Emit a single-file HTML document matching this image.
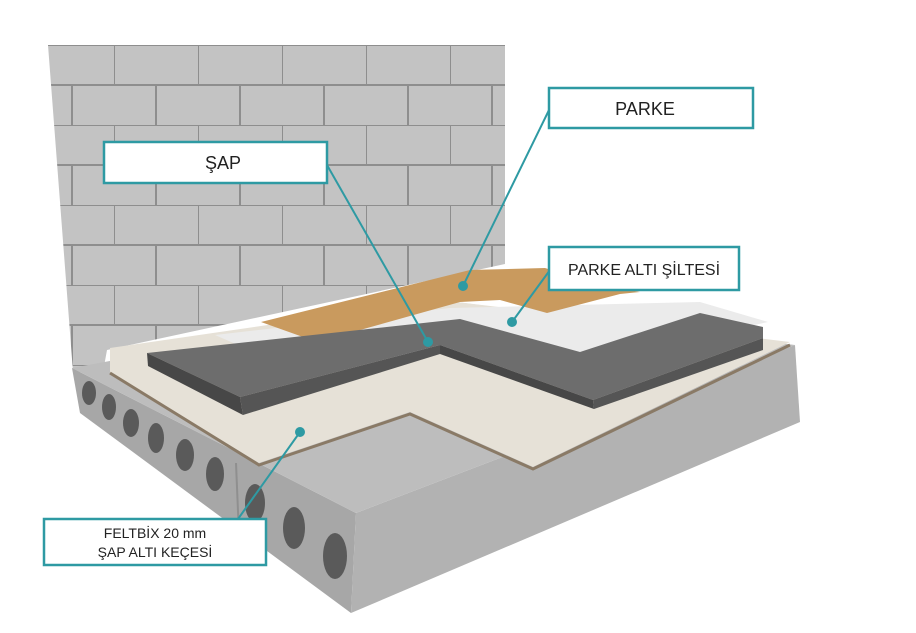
<!DOCTYPE html>
<html><head><meta charset="utf-8"><style>
body{margin:0;background:#fff;width:916px;height:633px;overflow:hidden}
svg{display:block}
text{font-family:"Liberation Sans",sans-serif;fill:#222}
</style></head><body>
<svg width="916" height="633" viewBox="0 0 916 633" xmlns="http://www.w3.org/2000/svg">
<defs>
<pattern id="brick" x="30" y="45" width="84" height="80" patternUnits="userSpaceOnUse">
<rect width="84" height="80" fill="#c3c3c3"/>
<path d="M0 0H84M0 40H84M0 0V40M42 40V80" stroke="#8e8e8e" stroke-width="2" fill="none"/>
</pattern>
</defs>
<!-- wall -->
<polygon points="48,45 505,45 505,264 107,350 103,372 73,372" fill="url(#brick)"/>
<!-- slab left face -->
<polygon points="72,368 356,513 351,613 80,413" fill="#a7a7a7"/>
<line x1="236" y1="463" x2="240" y2="560" stroke="#8f8f8f" stroke-width="2"/>
<!-- slab right face -->
<polygon points="356,513 795,345 800,422 351,613" fill="#b2b2b2"/>
<!-- slab top -->
<polygon points="72,368 440,300 795,345 356,513" fill="#bdbdbd"/>
<!-- holes -->
<g fill="#5a5a5a">
<ellipse cx="89" cy="393" rx="7" ry="12"/>
<ellipse cx="109" cy="407" rx="7" ry="13"/>
<ellipse cx="131" cy="423" rx="8" ry="14"/>
<ellipse cx="156" cy="438" rx="8" ry="15"/>
<ellipse cx="185" cy="455" rx="9" ry="16"/>
<ellipse cx="215" cy="474" rx="9" ry="17"/>
<ellipse cx="255" cy="503" rx="10" ry="19"/>
<ellipse cx="294" cy="528" rx="11" ry="21"/>
<ellipse cx="335" cy="556" rx="12" ry="23"/>
</g>
<!-- felt -->
<polygon points="110,348 440,300 790,342 533,467 410,412 259,463 110,373" fill="#e6e1d7"/>
<polyline points="110,373 259,465 410,414 533,469 790,345" fill="none" stroke="#8a7a66" stroke-width="3"/>
<!-- underlay sheet -->
<polygon points="215,335 450,308 700,302 768,322 590,360 439,350 300,372" fill="#ebebeb"/>
<!-- parquet -->
<polygon points="261,322 470,270 545,268 600,285 640,292 620,294 547,313 500,300 460,302 317,342" fill="#c99a5e"/>
<!-- screed -->
<polygon points="147,353 460,319 580,352 700,313 763,327 763,338 593,400 440,345 240,397" fill="#6d6d6d"/>
<polygon points="147,353 240,397 243,415 148,366" fill="#474747"/>
<polygon points="240,397 440,345 440,354 243,415" fill="#555"/>
<polygon points="440,345 593,400 594,409 440,354" fill="#474747"/>
<polygon points="593,400 763,338 763,350 594,409" fill="#555"/>
<!-- leaders -->
<g stroke="#2e9aa3" stroke-width="2" fill="#2e9aa3">
<line x1="550" y1="108" x2="463" y2="286"/><circle cx="463" cy="286" r="4"/>
<line x1="327" y1="165" x2="428" y2="342"/><circle cx="428" cy="342" r="4"/>
<line x1="550" y1="270" x2="512" y2="322"/><circle cx="512" cy="322" r="4"/>
<line x1="238" y1="519" x2="300" y2="432"/><circle cx="300" cy="432" r="4"/>
</g>
<!-- labels -->
<g fill="#fff" stroke="#2e9aa3" stroke-width="2.5">
<rect x="549" y="88" width="204" height="40"/>
<rect x="104" y="142" width="223" height="41"/>
<rect x="549" y="247" width="190" height="43"/>
<rect x="44" y="519" width="222" height="46"/>
</g>
<text x="645" y="115" font-size="18" text-anchor="middle">PARKE</text>
<text x="205" y="169" font-size="18">ŞAP</text>
<text x="644" y="275" font-size="16" text-anchor="middle">PARKE ALTI ŞİLTESİ</text>
<text x="155" y="538" font-size="14" text-anchor="middle">FELTBİX 20 mm</text>
<text x="155" y="557" font-size="14" text-anchor="middle">ŞAP ALTI KEÇESİ</text>
</svg>
</body></html>
